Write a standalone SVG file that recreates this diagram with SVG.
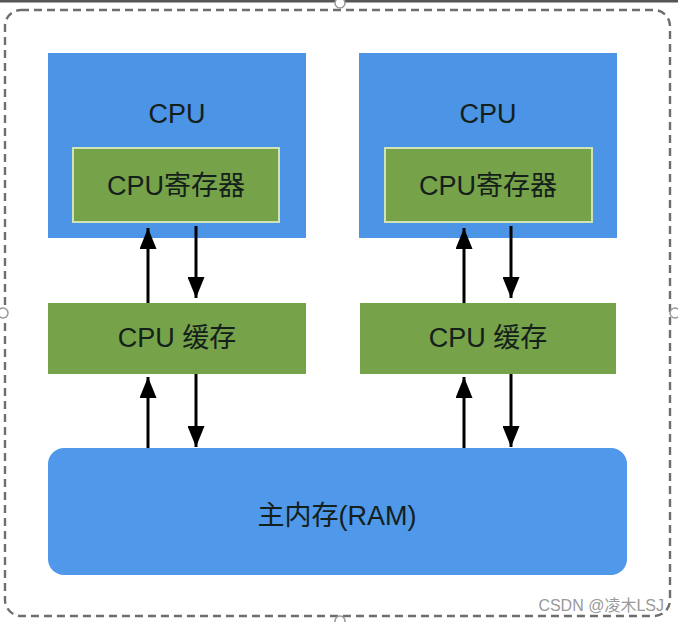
<svg xmlns="http://www.w3.org/2000/svg" width="678" height="622" viewBox="0 0 678 622">
<style>
.cpu{fill:#4b94e6;}
.reg{fill:#76a24a;stroke:#cfe3b6;stroke-width:2;}
.cache{fill:#76a24a;}
.ram{fill:#4f98ea;}
.t{font-family:"Liberation Sans","Noto Sans CJK SC",sans-serif;font-size:27px;fill:#14201a;text-anchor:middle;}
.c{stroke:#000;stroke-width:3;fill:none;}
</style>
<defs>
<marker id="ah" viewBox="0 0 21 17" refX="21" refY="8.5" markerWidth="21" markerHeight="17" markerUnits="userSpaceOnUse" orient="auto">
<path d="M0,0 L21,8.5 L0,17 Z" fill="#000"/>
</marker>
</defs>
<rect width="678" height="622" fill="#ffffff"/>
<rect x="0" y="0" width="678" height="2.5" fill="#555"/>
<rect id="frame" x="5" y="10" width="665" height="606" rx="16" fill="none" stroke="#6e6e6e" stroke-width="2.4" stroke-dasharray="8 5"/>
<g id="handles" fill="#fff" stroke="#999" stroke-width="1.5">
<circle cx="340" cy="3" r="5"/>
<circle cx="3" cy="313" r="5"/>
<circle cx="675" cy="313" r="5"/>
<circle cx="340" cy="621" r="5"/>
</g>
<g id="cpu1">
<rect class="cpu" x="48" y="53" width="258" height="185"/>
<text class="t" x="177" y="123">CPU</text>
</g>
<g id="reg1">
<rect class="reg" x="73" y="148" width="206" height="74"/>
<text class="t" x="176" y="195">CPU寄存器</text>
</g>
<g id="cpu2">
<rect class="cpu" x="359" y="53" width="258" height="185"/>
<text class="t" x="488" y="123">CPU</text>
</g>
<g id="reg2">
<rect class="reg" x="385" y="148" width="207" height="74"/>
<text class="t" x="488" y="195">CPU寄存器</text>
</g>
<g id="cache1">
<rect class="cache" x="48" y="303" width="258" height="71"/>
<text class="t" x="177" y="347">CPU 缓存</text>
</g>
<g id="cache2">
<rect class="cache" x="360" y="303" width="256" height="71"/>
<text class="t" x="488" y="347">CPU 缓存</text>
</g>
<g id="ram">
<rect class="ram" x="48" y="448" width="579" height="127" rx="16"/>
<text class="t" x="337" y="525">主内存(RAM)</text>
</g>
<g id="connectors">
<line class="c" x1="148" y1="303" x2="148" y2="228" marker-end="url(#ah)"/>
<line class="c" x1="196" y1="226" x2="196" y2="298" marker-end="url(#ah)"/>
<line class="c" x1="148" y1="448" x2="148" y2="377" marker-end="url(#ah)"/>
<line class="c" x1="196" y1="374" x2="196" y2="447" marker-end="url(#ah)"/>
<line class="c" x1="464" y1="303" x2="464" y2="228" marker-end="url(#ah)"/>
<line class="c" x1="511" y1="226" x2="511" y2="298" marker-end="url(#ah)"/>
<line class="c" x1="464" y1="448" x2="464" y2="377" marker-end="url(#ah)"/>
<line class="c" x1="511" y1="374" x2="511" y2="447" marker-end="url(#ah)"/>
</g>
<text x="664" y="611" font-family="Liberation Sans,'Noto Sans CJK SC',sans-serif" font-size="16" fill="#999999" text-anchor="end">CSDN @凌木LSJ</text>
</svg>
